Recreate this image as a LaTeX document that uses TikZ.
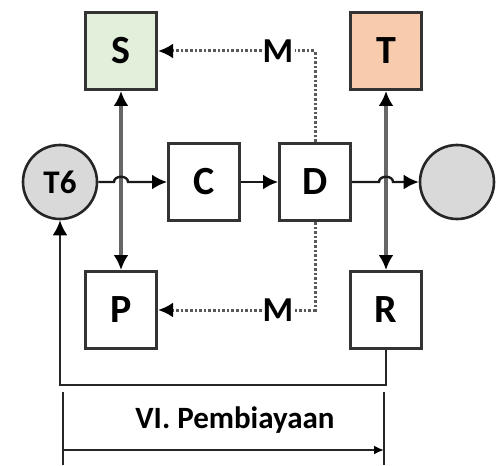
\documentclass[tikz,border=0pt]{standalone}
\usepackage{fontspec}
\setmainfont{Carlito}
\usetikzlibrary{arrows.meta,calc}
\definecolor{sgreen}{HTML}{E2EFDA}
\definecolor{tpeach}{HTML}{F8CBAD}
\definecolor{cgray}{HTML}{D9D9D9}
\begin{document}
\begin{tikzpicture}[x=1pt,y=-1pt,
 box/.style={draw=black!80, line width=3pt, fill=white, minimum width=71pt, minimum height=77pt, inner sep=0pt, font=\bfseries\fontsize{40}{46}\selectfont},
 circ/.style={circle, draw=black!85, line width=2.6pt, fill=cgray, minimum size=74pt, inner sep=0pt, font=\bfseries\fontsize{33}{38}\selectfont},
 conn/.style={line width=2.4pt, black!90, -{Latex[length=15pt,width=15pt,black]}},
 vconn/.style={line width=3.4pt, black!60, {Latex[length=15pt,width=15pt,black]}-{Latex[length=15pt,width=15pt,black]}},
 dotline/.style={line width=3pt, black!65, dash pattern=on 2.6pt off 2pt},
 dotarrow/.style={dotline, -{Latex[length=15pt,width=15pt,black]}},
 lab/.style={font=\bfseries\fontsize{35}{40}\selectfont, fill=white, inner sep=1pt},
 fb/.style={line width=2.4pt, black!85},
]
\useasboundingbox (0,0) rectangle (502,465);
\node[box, fill=sgreen] (s) at (121,51) {S};
\node[box, fill=tpeach] (t) at (386,51) {T};
\node[circ] (t6) at (60,182) {T6};
\node[box] (c) at (204,182) {C};
\node[box] (d) at (315,182) {D};
\node[circ] (e) at (457,182) {};
\node[box] (p) at (121,310) {P};
\node[box] (r) at (386,310) {R};
\node[lab] (m1) at (278,51) {M};
\node[lab] (m2) at (278,310) {M};
% vertical two-way connectors
\draw[vconn] (s) -- (p);
\draw[vconn] (t) -- (r);
% horizontal flow with hops
\draw[conn] (t6) -- ($(s.south |- t6.east)+(-7,0)$) .. controls ($(s.south |- t6.east)+(-7,-7)$) and ($(s.south |- t6.east)+(7,-7)$) .. ($(s.south |- t6.east)+(7,0)$) -- (c);
\draw[conn] (c) -- (d);
\draw[conn] (d) -- ($(t.south |- d.east)+(-7,0)$) .. controls ($(t.south |- d.east)+(-7,-7)$) and ($(t.south |- d.east)+(7,-7)$) .. ($(t.south |- d.east)+(7,0)$) -- (e);
% dotted M connectors
\draw[dotline] (d.north) |- (m1);
\draw[dotarrow] (m1) -- (s);
\draw[dotline] (d.south) |- (m2);
\draw[dotarrow] (m2) -- (p);
% feedback loop
\draw[fb, -{Latex[length=15pt,width=15pt,black]}] (r.south) -- ++(0,35) -| (t6.south);
% dimension
\coordinate (dl1) at (63,392);
\coordinate (dl2) at (63,465);
\coordinate (dr1) at (384,392);
\coordinate (dr2) at (384,465);
\draw[fb] (dl1) -- (dl2);
\draw[fb] (dr1) -- (dr2);
\coordinate (al) at (63,450);
\coordinate (ar) at (384,450);
\draw[fb, -{Latex[length=10pt,width=9pt,black]}] (al) -- (ar);
\node[font=\bfseries\fontsize{31}{36}\selectfont] (lbl) at (235,420) {VI. Pembiayaan};
\end{tikzpicture}
\end{document}
